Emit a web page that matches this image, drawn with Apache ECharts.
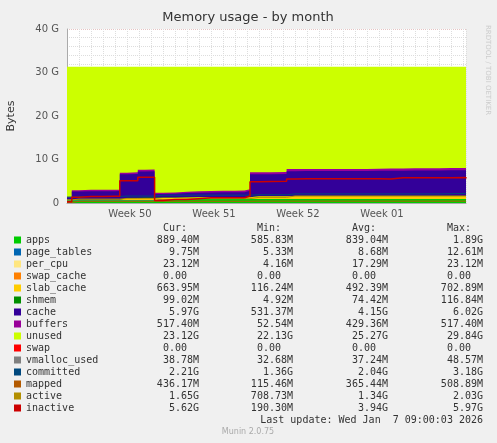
<!DOCTYPE html>
<html><head><meta charset="utf-8">
<style>html,body{margin:0;background:#f0f0f0}#c{width:497px;height:443px}</style>
<script src="https://cdn.jsdelivr.net/npm/echarts@6/dist/echarts.min.js"></script>
</head><body><div id="c"></div>
<script>
// time in days since start of the plotted month
const days       = [0, 0.4, 1, 2, 3, 4, 4.4, 5, 5.9, 6.5, 7.3, 8, 9, 10, 11, 12, 13, 14, 14.8, 15.25, 16, 17, 18.3, 19, 20, 21, 22, 23, 24, 25, 26, 27, 28, 29, 30, 31, 32, 33.25];
// stacked areas, in G
const apps       = [0.6, 0.6, 0.6, 0.6, 0.6, 0.6, 0.6, 0.6, 0.6, 0.6, 0.9, 0.9, 0.9, 0.9, 0.9, 0.9, 0.9, 0.9, 0.9, 0.9, 0.9, 0.9, 0.9, 0.9, 0.9, 0.9, 0.9, 0.9, 0.9, 0.9, 0.9, 0.9, 0.9, 0.9, 0.9, 0.9, 0.9, 0.89];
const pageTables = [0.01, 0.01, 0.01, 0.01, 0.01, 0.01, 0.01, 0.01, 0.01, 0.01, 0.01, 0.01, 0.01, 0.01, 0.01, 0.01, 0.01, 0.01, 0.01, 0.01, 0.01, 0.01, 0.01, 0.01, 0.01, 0.01, 0.01, 0.01, 0.01, 0.01, 0.01, 0.01, 0.01, 0.01, 0.01, 0.01, 0.01, 0.01];
const perCpu     = [0.01, 0.01, 0.01, 0.01, 0.01, 0.01, 0.01, 0.01, 0.01, 0.01, 0.02, 0.02, 0.02, 0.02, 0.02, 0.02, 0.02, 0.02, 0.02, 0.02, 0.02, 0.02, 0.02, 0.02, 0.02, 0.02, 0.02, 0.02, 0.02, 0.02, 0.02, 0.02, 0.02, 0.02, 0.02, 0.02, 0.02, 0.02];
const swapCache  = [0, 0, 0, 0, 0, 0, 0, 0, 0, 0, 0, 0, 0, 0, 0, 0, 0, 0, 0, 0, 0, 0, 0, 0, 0, 0, 0, 0, 0, 0, 0, 0, 0, 0, 0, 0, 0, 0];
const slabCache  = [0.12, 0.15, 0.15, 0.15, 0.15, 0.15, 0.5, 0.5, 0.55, 0.55, 0.3, 0.3, 0.35, 0.4, 0.4, 0.4, 0.4, 0.4, 0.4, 0.6, 0.6, 0.6, 0.66, 0.66, 0.66, 0.66, 0.66, 0.66, 0.66, 0.66, 0.66, 0.66, 0.66, 0.66, 0.66, 0.66, 0.66, 0.66];
const shmem      = [0.01, 0.05, 0.05, 0.05, 0.05, 0.05, 0.08, 0.08, 0.08, 0.08, 0.05, 0.05, 0.06, 0.07, 0.07, 0.07, 0.07, 0.07, 0.07, 0.09, 0.09, 0.09, 0.1, 0.1, 0.1, 0.1, 0.1, 0.1, 0.1, 0.1, 0.1, 0.1, 0.1, 0.1, 0.1, 0.1, 0.1, 0.1];
const cache      = [0.53, 1.8, 1.9, 1.9, 1.9, 1.95, 5.4, 5.45, 6.0, 6.05, 0.8, 0.85, 0.95, 0.95, 1.0, 1.05, 1.05, 1.1, 1.4, 5.0, 5.0, 5.05, 5.6, 5.65, 5.65, 5.65, 5.65, 5.65, 5.65, 5.7, 5.75, 5.75, 5.8, 5.8, 5.8, 5.85, 5.85, 5.97];
const buffers    = [0.05, 0.3, 0.3, 0.3, 0.3, 0.3, 0.35, 0.4, 0.4, 0.4, 0.3, 0.3, 0.3, 0.35, 0.35, 0.35, 0.35, 0.35, 0.35, 0.45, 0.45, 0.45, 0.5, 0.5, 0.5, 0.5, 0.5, 0.5, 0.5, 0.5, 0.5, 0.5, 0.5, 0.5, 0.5, 0.5, 0.5, 0.52];
const ramTotal   = 31.3;
// lines, in G
const committed  = [1.36, 1.5, 1.5, 1.5, 1.5, 1.5, 1.6, 1.6, 1.6, 1.6, 1.8, 1.8, 1.8, 1.8, 1.8, 1.8, 1.8, 1.8, 1.8, 1.9, 1.9, 1.9, 2.1, 2.1, 2.1, 2.1, 2.1, 2.1, 2.1, 2.1, 2.1, 2.1, 2.1, 2.1, 2.1, 2.15, 2.2, 2.21];
const mapped     = [0.12, 0.4, 0.4, 0.4, 0.4, 0.4, 0.4, 0.4, 0.4, 0.4, 0.4, 0.4, 0.4, 0.4, 0.4, 0.4, 0.4, 0.4, 0.4, 0.43, 0.43, 0.43, 0.43, 0.43, 0.43, 0.43, 0.43, 0.43, 0.43, 0.43, 0.43, 0.43, 0.43, 0.43, 0.43, 0.43, 0.43, 0.44];
const active     = [0.7, 0.9, 0.9, 0.9, 0.9, 0.9, 1.0, 1.0, 1.0, 1.0, 0.8, 0.8, 0.9, 1.0, 1.0, 1.0, 1.0, 1.0, 1.0, 1.3, 1.3, 1.3, 1.6, 1.6, 1.6, 1.6, 1.6, 1.6, 1.6, 1.6, 1.6, 1.6, 1.6, 1.6, 1.6, 1.6, 1.6, 1.65];
const inactive   = [0.3, 1.3, 1.5, 1.5, 1.55, 1.55, 5.1, 5.1, 5.9, 5.9, 0.6, 0.8, 0.8, 1.0, 1.2, 1.2, 1.2, 1.2, 1.6, 4.9, 4.95, 5.0, 5.5, 5.55, 5.55, 5.55, 5.55, 5.55, 5.55, 5.6, 5.5, 5.8, 5.8, 5.8, 5.8, 5.8, 5.85, 5.62];
const weekTicks  = [5.25, 12.25, 19.25, 26.25];
const weekLabels = ['Week 50', 'Week 51', 'Week 52', 'Week 01'];
const yTicks     = ['0', '10 G', '20 G', '30 G', '40 G'];

// legend table
const legNames = ['apps','page_tables','per_cpu','swap_cache','slab_cache','shmem','cache','buffers','unused','swap','vmalloc_used','committed','mapped','active','inactive'];
const legColors = ['#00cc00','#0066b3','#ffe680','#ff8000','#ffcc00','#008f00','#330099','#990099','#ccff00','#ff0000','#808080','#00487d','#b35a00','#b38f00','#cc0000'];
const legCur = ['889.40M','9.75M','23.12M','0.00','663.95M','99.02M','5.97G','517.40M','23.12G','0.00','38.78M','2.21G','436.17M','1.65G','5.62G'];
const legMin = ['585.83M','5.33M','4.16M','0.00','116.24M','4.92M','531.37M','52.54M','22.13G','0.00','32.68M','1.36G','115.46M','708.73M','190.30M'];
const legAvg = ['839.04M','8.68M','17.29M','0.00','492.39M','74.42M','4.15G','429.36M','25.27G','0.00','37.24M','2.04G','365.44M','1.34G','3.94G'];
const legMax = ['1.89G','12.61M','23.12M','0.00','702.89M','116.84M','6.02G','517.40M','29.84G','0.00','48.57M','3.18G','508.89M','2.03G','5.97G'];

const stacked = [apps, pageTables, perCpu, swapCache, slabCache, shmem, cache, buffers];
const unused = days.map((d, i) => +(ramTotal - stacked.reduce((s, a) => s + a[i], 0)).toFixed(3));
const pair = a => days.map((d, i) => [d, a[i]]);
const col = n => legColors[legNames.indexOf(n)];

// cumulative tops, drawn highest first so lower layers cover them
const areas = [['apps', apps], ['page_tables', pageTables], ['per_cpu', perCpu], ['swap_cache', swapCache],
  ['slab_cache', slabCache], ['shmem', shmem], ['cache', cache], ['buffers', buffers], ['unused', unused]];
const running = days.map(() => 0);
const cum = areas.map(([n, a]) => {
  a.forEach((v, i) => running[i] += v);
  return [n, running.slice()];
});
const lines = [['committed', committed], ['mapped', mapped], ['active', active], ['inactive', inactive]];

const series = [];
cum.reverse().forEach(([n, a], k) => series.push({
  name: n, type: 'line', step: 'end', data: pair(a), symbol: 'none', z: 2 + k,
  lineStyle: { width: 0 }, areaStyle: { color: col(n), opacity: 1 }, itemStyle: { color: col(n) }, silent: true
}));
lines.forEach(([n, a]) => series.push({
  name: n, type: 'line', step: 'end', data: pair(a), symbol: 'none', z: 20,
  lineStyle: { width: n === 'inactive' ? 1.5 : 1, color: col(n) }, silent: true
}));

const mono = 'DejaVu Sans Mono';
const graphic = [];
const colsX = [199, 293, 388, 483];
['Cur:', 'Min:', 'Avg:', 'Max:'].forEach((h, j) => graphic.push({
  type: 'text', x: colsX[j] - 12, y: 228, style: { text: h, font: '10px ' + mono, fill: '#333', align: 'right', verticalAlign: 'middle' }
}));
legNames.forEach((n, i) => {
  const y = 240 + i * 12;
  graphic.push({ type: 'rect', shape: { x: 14, y: y - 3.5, width: 7, height: 7 }, style: { fill: legColors[i] } });
  graphic.push({ type: 'text', x: 26, y: y, style: { text: n, font: '10px ' + mono, fill: '#333', verticalAlign: 'middle' } });
  [legCur, legMin, legAvg, legMax].forEach((arr, j) => {
    const v = arr[i];
    const pad = v.endsWith('M') || v.endsWith('G') ? 0 : 12;
    graphic.push({ type: 'text', x: colsX[j] - pad, y: y, style: { text: v, font: '10px ' + mono, fill: '#333', align: 'right', verticalAlign: 'middle' } });
  });
});
graphic.push({ type: 'text', x: 483, y: 420, style: { text: 'Last update: Wed Jan  7 09:00:03 2026', font: '10px ' + mono, fill: '#333', align: 'right', verticalAlign: 'middle' } });
graphic.push({ type: 'text', x: 248, y: 432, style: { text: 'Munin 2.0.75', font: '8px DejaVu Sans', fill: '#aaa', align: 'center', verticalAlign: 'middle' } });
graphic.push({ type: 'text', x: 248, y: 18, style: { text: 'Memory usage - by month', font: '13px DejaVu Sans', fill: '#333', align: 'center', verticalAlign: 'middle' } });
graphic.push({ type: 'text', x: 11, y: 116, rotation: Math.PI / 2, style: { text: 'Bytes', font: '11px DejaVu Sans', fill: '#333', align: 'center', verticalAlign: 'middle' } });
graphic.push({ type: 'text', x: 488, y: 70, rotation: -Math.PI / 2, style: { text: 'RRDTOOL / TOBI OETIKER', font: '7px DejaVu Sans', fill: '#ccc', align: 'center', verticalAlign: 'middle' } });

const chart = echarts.init(document.getElementById('c'));
chart.setOption({
  backgroundColor: '#f0f0f0',
  animation: false,
  grid: { left: 67, right: 31, top: 29, bottom: 240, backgroundColor: '#fff', show: true, borderWidth: 0 },
  xAxis: [{
    type: 'value', min: 0, max: 33.25,
    axisLine: { lineStyle: { color: '#aaa' } },
    axisTick: { customValues: weekTicks, show: false },
    axisLabel: { customValues: weekTicks, formatter: v => weekLabels[weekTicks.indexOf(v)] || '', color: '#555', fontSize: 10, fontFamily: 'DejaVu Sans', margin: 6 },
    splitLine: { show: false }
  }, {
    type: 'value', min: 0, max: 33.25, interval: 1, show: true, position: 'bottom',
    axisLine: { show: false }, axisTick: { show: false }, axisLabel: { show: false },
    splitLine: { show: true, lineStyle: { color: '#ddd', type: 'dotted' } }
  }],
  yAxis: {
    type: 'value', min: 0, max: 40, interval: 10,
    axisLine: { show: true, lineStyle: { color: '#aaa' } },
    axisTick: { show: false },
    axisLabel: { formatter: v => yTicks[v / 10], color: '#555', fontSize: 10, fontFamily: 'DejaVu Sans' },
    splitLine: { lineStyle: { color: '#e6c4c4', type: 'dotted' } },
    minorTick: { show: false, splitNumber: 5 },
    minorSplitLine: { show: true, lineStyle: { color: '#ddd', type: 'dotted' } }
  },
  series: series,
  graphic: graphic
});
</script></body></html>
